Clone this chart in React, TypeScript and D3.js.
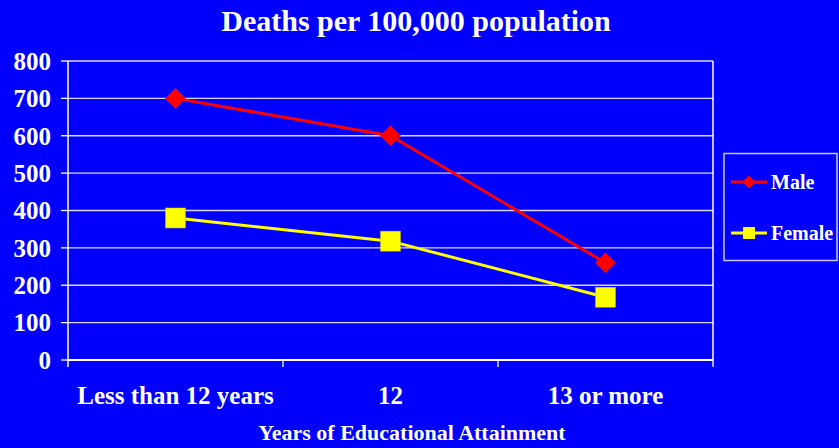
import React from "react";
import * as d3 from "d3";

const categories = ["Less than 12 years", "12", "13 or more"];
const maleValues = [700, 600, 260];
const femaleValues = [380, 318, 168];
const yTicks = [0, 100, 200, 300, 400, 500, 600, 700, 800];

const W = 839, H = 448;
const m = { left: 68, right: 713, top: 61, bottom: 360 };
const font = "'Liberation Serif', 'Times New Roman', serif";

export default function App() {
  const x = d3.scaleBand<string>().domain(categories).range([m.left, m.right]);
  const y = d3.scaleLinear().domain([0, 800]).range([m.bottom, m.top]);
  const cx = (c: string) => (x(c) as number) + x.bandwidth() / 2;
  const line = d3.line<number>().x((_, i) => cx(categories[i])).y((v) => y(v));
  const diamond = (px: number, py: number, r: number) =>
    `M${px},${py - r}L${px + r},${py}L${px},${py + r}L${px - r},${py}Z`;
  return (
    <svg width={W} height={H} style={{ position: "absolute", left: 0, top: 0, display: "block" }}>
      <rect x={0} y={0} width={W} height={H} fill="#0000fc" />
      <text x={416} y={31} textAnchor="middle" fill="#fff" fontFamily={font} fontWeight="bold" fontSize={30}>
        Deaths per 100,000 population
      </text>
      {yTicks.map((t) => (
        <g key={t}>
          <line x1={m.left} x2={m.right} y1={y(t)} y2={y(t)} stroke="#d8d8ff" strokeWidth={1.3} />
          <line x1={61} x2={m.left} y1={y(t)} y2={y(t)} stroke="#fff" strokeWidth={1.3} />
          <text x={51} y={y(t)} dy="0.35em" textAnchor="end" fill="#fff" fontFamily={font} fontWeight="bold" fontSize={25}>
            {t}
          </text>
        </g>
      ))}
      <line x1={m.left} x2={m.left} y1={m.top} y2={m.bottom + 7} stroke="#fff" strokeWidth={1.5} />
      <line x1={m.right} x2={m.right} y1={m.top} y2={m.bottom} stroke="#fff" strokeWidth={1.5} />
      <line x1={m.left} x2={m.right} y1={m.bottom} y2={m.bottom} stroke="#fff" strokeWidth={1.8} />
      {categories.map((c, i) => (
        <g key={c}>
          <line x1={(x(c) as number) + x.bandwidth()} x2={(x(c) as number) + x.bandwidth()} y1={m.bottom} y2={m.bottom + 7} stroke="#fff" strokeWidth={1.3} />
          <text x={cx(c)} y={404} textAnchor="middle" fill="#fff" fontFamily={font} fontWeight="bold" fontSize={25}>
            {c}
          </text>
        </g>
      ))}
      <text x={412} y={440} textAnchor="middle" fill="#fff" fontFamily={font} fontWeight="bold" fontSize={22}>
        Years of Educational Attainment
      </text>
      <path d={line(maleValues) || ""} fill="none" stroke="#ff0000" strokeWidth={3} />
      <path d={line(femaleValues) || ""} fill="none" stroke="#ffff00" strokeWidth={3} />
      {maleValues.map((v, i) => (
        <path key={"m" + i} d={diamond(cx(categories[i]), y(v), 10.5)} fill="#ff0000" />
      ))}
      {femaleValues.map((v, i) => (
        <rect key={"f" + i} x={cx(categories[i]) - 10} y={y(v) - 10} width={20} height={20} fill="#ffff00" stroke="#c8c800" strokeWidth={0.5} />
      ))}
      <rect x={724} y={153.5} width={113} height={107} fill="none" stroke="#c8c8ff" strokeWidth={1.5} />
      <line x1={731} x2={767} y1={182} y2={182} stroke="#ff0000" strokeWidth={3} />
      <path d={diamond(749, 182, 6.5)} fill="#ff0000" />
      <text x={771} y={182} dy="0.35em" fill="#fff" fontFamily={font} fontWeight="bold" fontSize={20}>Male</text>
      <line x1={731} x2={767} y1={233} y2={233} stroke="#ffff00" strokeWidth={3} />
      <rect x={743} y={227} width={12} height={12} fill="#ffff00" />
      <text x={771} y={233} dy="0.35em" fill="#fff" fontFamily={font} fontWeight="bold" fontSize={20}>Female</text>
    </svg>
  );
}
